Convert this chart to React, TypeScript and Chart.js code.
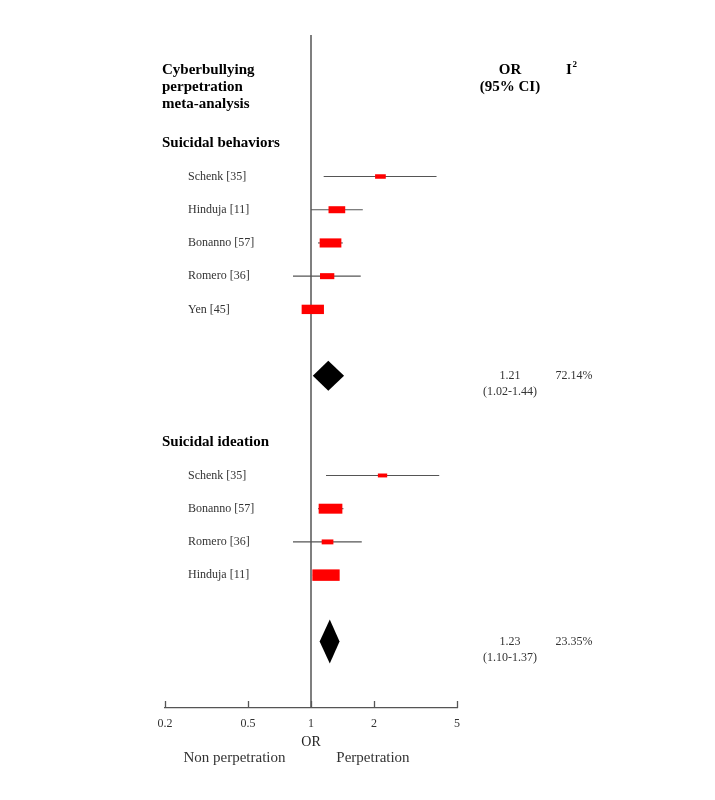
import React, { useEffect, useRef } from 'react';
import { Chart, registerables } from 'chart.js';

Chart.register(...registerables);

// ---------- Data ----------
const TITLE_LINES = ['Cyberbullying', 'perpetration', 'meta-analysis'];
const COL_OR = ['OR', '(95% CI)'];
const COL_I2 = 'I';

const SB_TITLE = 'Suicidal behaviors';
const SB_STUDIES = ['Schenk [35]', 'Hinduja [11]', 'Bonanno [57]', 'Romero [36]', 'Yen [45]'];
const SB_OR = [2.15, 1.33, 1.24, 1.195, 1.02];
const SB_LOWER = [1.15, 1.0, 1.08, 0.82, 0.92];
const SB_UPPER = [3.99, 1.77, 1.42, 1.73, 1.13];
const SB_WEIGHT = [10.7, 16.7, 21.7, 14.3, 22.3];
const SB_POOLED = [1.21, 1.02, 1.44];
const SB_I2 = '72.14%';

const SI_TITLE = 'Suicidal ideation';
const SI_STUDIES = ['Schenk [35]', 'Bonanno [57]', 'Romero [36]', 'Hinduja [11]'];
const SI_OR = [2.2, 1.24, 1.2, 1.18];
const SI_LOWER = [1.18, 1.08, 0.82, 1.02];
const SI_UPPER = [4.11, 1.43, 1.75, 1.36];
const SI_WEIGHT = [9.3, 23.7, 11.7, 27.3];
const SI_POOLED = [1.23, 1.1, 1.37];
const SI_I2 = '23.35%';

const TICKS = [0.2, 0.5, 1, 2, 5];
const AXIS_TITLE = 'OR';
const SIDE_LABELS = ['Non perpetration', 'Perpetration'];

const GROUPS = [
  { title: SB_TITLE, studies: SB_STUDIES, or: SB_OR, lo: SB_LOWER, hi: SB_UPPER, w: SB_WEIGHT, pooled: SB_POOLED, i2: SB_I2 },
  { title: SI_TITLE, studies: SI_STUDIES, or: SI_OR, lo: SI_LOWER, hi: SI_UPPER, w: SI_WEIGHT, pooled: SI_POOLED, i2: SI_I2 },
];

// ---------- Styles ----------
const SERIF = '"Liberation Serif", "Times New Roman", serif';
const DIAMOND_HALF = [15, 22];
const BOX_SCALE = 1.0;
const BOX_ASPECT = 0.42;
const LINE_COLOR = '#555';
const BOX_COLOR = '#ff0000';
const OR_COL_X = 510;
const I2_COL_X = 572;

function layoutRows() {
  let r = 0;
  return GROUPS.map((g) => {
    const header = r;
    const studyRows = g.studies.map((_, i) => r + 1 + i);
    const pooled = r + g.studies.length + 2;
    r = pooled + 2;
    return { header, studyRows, pooled };
  });
}
const ROWS = layoutRows();

const forestPlugin = {
  id: 'forest',
  beforeDatasetsDraw(chart: any) {
    const { ctx, chartArea, scales } = chart;
    const x = scales.x;
    const x1 = x.getPixelForValue(1);
    ctx.save();
    ctx.strokeStyle = LINE_COLOR;
    ctx.lineWidth = 1.5;
    ctx.beginPath();
    ctx.moveTo(x1, chartArea.top);
    ctx.lineTo(x1, chartArea.bottom);
    ctx.stroke();
    ctx.lineWidth = 1.3;
    for (const t of TICKS) {
      const px = Math.round(x.getPixelForValue(t)) + 0.5;
      ctx.beginPath();
      ctx.moveTo(px, chartArea.bottom);
      ctx.lineTo(px, chartArea.bottom - 7);
      ctx.stroke();
    }
    ctx.restore();
  },
  afterDatasetsDraw(chart: any) {
    const { ctx, chartArea, scales } = chart;
    const x = scales.x;
    const y = scales.y;
    const left = chartArea.left;
    ctx.save();
    ctx.textBaseline = 'middle';

    // Title block
    const titleY = y.getPixelForValue(-1.7);
    ctx.fillStyle = '#000';
    ctx.font = `bold 15px ${SERIF}`;
    ctx.textAlign = 'left';
    TITLE_LINES.forEach((t, i) => ctx.fillText(t, left - 3, titleY + (i - 1) * 17));
    ctx.textAlign = 'center';
    ctx.fillText(COL_OR[0], OR_COL_X, titleY - 17);
    ctx.fillText(COL_OR[1], OR_COL_X, titleY);
    ctx.fillText(COL_I2, I2_COL_X - 3, titleY - 17);
    ctx.font = `bold 9px ${SERIF}`;
    ctx.textAlign = 'left';
    ctx.fillText('2', I2_COL_X + 0.5, titleY - 22);

    GROUPS.forEach((g, gi) => {
      const rows = ROWS[gi];
      // header
      ctx.fillStyle = '#000';
      ctx.font = `bold 15px ${SERIF}`;
      ctx.textAlign = 'left';
      ctx.fillText(g.title, left - 3, y.getPixelForValue(rows.header));

      // studies
      g.studies.forEach((name, i) => {
        const py = y.getPixelForValue(rows.studyRows[i]);
        ctx.fillStyle = '#333';
        ctx.font = `12px ${SERIF}`;
        ctx.textAlign = 'left';
        ctx.fillText(name, left + 23, py);
        const xl = x.getPixelForValue(g.lo[i]);
        const xh = x.getPixelForValue(g.hi[i]);
        const xc = x.getPixelForValue(g.or[i]);
        ctx.strokeStyle = LINE_COLOR;
        ctx.lineWidth = 1.1;
        ctx.beginPath();
        ctx.moveTo(xl, py);
        ctx.lineTo(xh, py);
        ctx.stroke();
        const bw = g.w[i] * BOX_SCALE;
        const bh = bw * BOX_ASPECT;
        ctx.fillStyle = BOX_COLOR;
        ctx.fillRect(xc - bw / 2, py - bh / 2, bw, bh);
      });

      // pooled diamond
      const py = y.getPixelForValue(rows.pooled);
      const [por, plo, phi] = g.pooled;
      const xc = x.getPixelForValue(por);
      const xl = x.getPixelForValue(plo);
      const xh = x.getPixelForValue(phi);
      const hh = DIAMOND_HALF[gi];
      ctx.fillStyle = '#000';
      ctx.beginPath();
      ctx.moveTo(xl, py);
      ctx.lineTo(xc, py - hh);
      ctx.lineTo(xh, py);
      ctx.lineTo(xc, py + hh);
      ctx.closePath();
      ctx.fill();

      ctx.fillStyle = '#333';
      ctx.font = `12px ${SERIF}`;
      ctx.textAlign = 'center';
      ctx.fillText(por.toFixed(2), OR_COL_X, py);
      ctx.fillText(`(${plo.toFixed(2)}-${phi.toFixed(2)})`, OR_COL_X, py + 16);
      ctx.fillText(g.i2, I2_COL_X + 2, py);
    });

    // side labels under axis
    ctx.fillStyle = '#333';
    ctx.font = `15px ${SERIF}`;
    ctx.textAlign = 'center';
    const sideY = chartArea.bottom + 50;
    ctx.fillText(SIDE_LABELS[0], x.getPixelForValue(0.43), sideY);
    ctx.fillText(SIDE_LABELS[1], x.getPixelForValue(1.98), sideY);
    ctx.restore();
  },
};

export default function App() {
  const canvasRef = useRef<HTMLCanvasElement | null>(null);

  useEffect(() => {
    if (!canvasRef.current) return;
    const points: { x: number; y: number }[] = [];
    GROUPS.forEach((g, gi) => g.or.forEach((v, i) => points.push({ x: v, y: ROWS[gi].studyRows[i] })));
    const chart = new Chart(canvasRef.current, {
      type: 'scatter',
      data: {
        datasets: [
          {
            label: 'OR',
            data: points,
            pointRadius: 0,
            pointHoverRadius: 0,
            showLine: false,
          },
        ],
      },
      options: {
        responsive: false,
        animation: false,
        devicePixelRatio: 1,
        layout: { padding: { left: 165, right: 258, top: 35, bottom: 49 } },
        plugins: { legend: { display: false }, tooltip: { enabled: false } },
        scales: {
          x: {
            type: 'logarithmic',
            min: 0.2,
            max: 5,
            grid: { display: false },
            border: { display: true, color: LINE_COLOR, width: 1.3 },
            afterBuildTicks: (scale: any) => {
              scale.ticks = TICKS.map((v) => ({ value: v }));
            },
            afterFit: (scale: any) => {
              scale.height = 43;
            },
            ticks: {
              autoSkip: false,
              maxRotation: 0,
              padding: 1,
              color: '#333',
              font: { family: SERIF, size: 12 },
              callback: (v: any) => String(Number(v)),
            },
            title: {
              display: true,
              text: AXIS_TITLE,
              color: '#222',
              font: { family: SERIF, size: 14 },
              padding: { top: 0, bottom: 0 },
            },
          },
          y: {
            type: 'linear',
            min: -3.26,
            max: 17,
            reverse: true,
            display: false,
          },
        },
      },
      plugins: [forestPlugin],
    });
    return () => chart.destroy();
  }, []);

  return (
    <div style={{ position: 'absolute', left: 0, top: 0, width: 715, height: 800, background: '#fff' }}>
      <canvas ref={canvasRef} width={715} height={800} style={{ width: 715, height: 800, display: 'block' }} />
    </div>
  );
}
